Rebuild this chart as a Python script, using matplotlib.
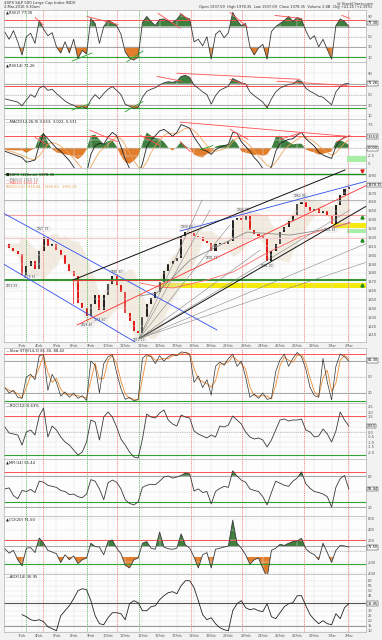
import numpy as np
import pandas as pd
import matplotlib
matplotlib.use("Agg")
import matplotlib.pyplot as plt
from matplotlib.transforms import blended_transform_factory

# ---- data (4 bars per trading day, day 0 = 3Feb) ----
DAY_LABELS = ["3Feb", "4Feb", "5Feb", "8Feb", "9Feb", "10Feb", "11Feb", "12Feb", "16Feb", "17Feb",
              "18Feb", "19Feb", "22Feb", "23Feb", "24Feb", "25Feb", "26Feb", "29Feb", "1Mar", "2Mar"]
GREEN_DAYS = [0.23, 3.78, 6.80]
RED_DAYS = [1.22, 5.52, 9.83, 12.79, 16.40, 18.95]

CLOSE = [1912, 1908, 1905, 1901, 1878, 1888, 1893, 1884, 1905, 1920, 1910, 1913, 1906, 1900, 1890,
         1882, 1876, 1846, 1840, 1831, 1845, 1855, 1838, 1855, 1868, 1877, 1866, 1858, 1835, 1826,
         1815, 1812, 1830, 1845, 1852, 1858, 1870, 1882, 1890, 1893, 1897, 1922, 1926, 1925, 1922,
         1920, 1916, 1914, 1905, 1912, 1914, 1912, 1916, 1940, 1942, 1940, 1944, 1928, 1924, 1922,
         1918, 1893, 1905, 1913, 1926, 1932, 1938, 1944, 1958, 1960, 1954, 1950, 1952, 1948, 1950,
         1944, 1935, 1956, 1968, 1975, 1977]

RSI2 = [59, 45, 62, 40, 14, 50, 57, 37, 82, 65, 52, 58, 30, 18, 40, 18, 45, 7, 23, 16, 86, 76, 37, 70,
        82, 78, 72, 55, 20, 8, 4, 10, 78, 90, 80, 72, 84, 85, 80, 78, 84, 95, 88, 85, 40, 45, 32, 50,
        6, 55, 62, 48, 58, 98, 82, 72, 76, 30, 14, 28, 35, 6, 60, 70, 76, 82, 90, 80, 88, 84, 62, 45,
        52, 30, 45, 25, 6, 72, 85, 80, 70]

RSI14 = [42, 40, 38, 36, 29, 40, 50, 45, 62, 66, 58, 60, 52, 45, 38, 33, 30, 25, 27, 24, 40, 50, 42,
         52, 60, 65, 58, 50, 32, 28, 24, 26, 45, 56, 60, 63, 68, 72, 74, 73, 75, 84, 86, 82, 68, 62,
         55, 50, 32, 48, 58, 62, 66, 80, 76, 72, 70, 55, 48, 42, 36, 25, 42, 55, 62, 66, 69, 70, 76,
         75, 62, 56, 52, 47, 45, 38, 31, 55, 65, 70, 71]

MACD = [-1.0, -1.5, -2.0, -2.5, -3.0, -4.5, -4.2, -3.8, 1.0, 4.5, 3.0, 1.5, 0.0, -1.0, -2.5, -4.0,
        -6.0, -8.5, -9.0, -8.0, -2.0, 0.8, 1.5, 1.3, 3.5, 5.0, 4.0, 0.5, -3.5, -6.5, -8.0, -8.5,
        -5.0, 0.5, 2.5, 4.0, 5.5, 6.0, 5.0, 3.8, 5.0, 7.5, 7.0, 6.3, 3.5, 1.5, -0.5, -1.0, -2.0,
        -0.5, 0.2, 0.8, 1.2, 5.0, 4.8, 2.0, 0.5, -1.0, -3.0, -4.5, -6.5, -7.5, -6.0, -1.0, 1.5,
        2.2, 2.8, 3.0, 4.2, 5.0, 3.0, 1.8, 0.6, -1.3, -2.2, -2.8, -3.3, 0.5, 2.5, 3.5, 3.7]
SIGNAL = [-0.5, -0.9, -1.3, -1.8, -2.3, -3.0, -3.5, -3.7, -2.5, -0.5, 1.2, 1.8, 1.4, 0.6, -0.5,
          -1.8, -3.3, -5.0, -6.5, -7.5, -6.0, -3.5, -1.2, 0.0, 1.2, 2.5, 3.5, 3.0, 1.0, -1.5, -4.0,
          -6.0, -6.5, -4.5, -1.5, 0.8, 2.5, 4.0, 4.8, 4.6, 4.6, 5.5, 6.3, 6.5, 5.6, 4.2, 2.5, 0.8,
          -0.5, -1.0, -0.7, -0.2, 0.3, 2.0, 3.3, 3.0, 2.0, 0.8, -0.8, -2.5, -4.0, -5.5, -6.0, -4.5,
          -2.5, -0.5, 0.8, 1.8, 2.8, 3.6, 3.4, 2.8, 2.0, 0.8, -0.4, -1.4, -2.2, -1.5, 0.0, 1.6, 2.6]

STOCH_K = [30, 20, 25, 12, 10, 50, 55, 45, 90, 92, 25, 55, 40, 14, 22, 12, 20, 10, 15, 6, 80, 72, 20,
           75, 88, 92, 58, 28, 8, 12, 5, 8, 85, 92, 88, 75, 90, 80, 88, 92, 90, 97, 96, 92, 40, 52,
           30, 45, 16, 70, 78, 72, 85, 93, 70, 80, 50, 12, 18, 10, 20, 8, 10, 60, 82, 93, 70, 85, 96,
           88, 65, 30, 15, 12, 85, 40, 7, 70, 93, 88, 80]

ROC = [0.5, -0.1, -0.2, -0.3, -1.3, 0.0, 0.2, -0.3, 1.6, 2.4, -0.5, 0.6, 0.2, -0.5, -1.0, -1.3, -1.8,
       -2.3, -2.0, -1.0, 1.2, 1.0, -0.8, 1.5, 2.0, 1.5, 0.5, -0.7, -1.3, -2.0, -2.5, -2.6, -0.7, 1.8,
       1.5, 1.4, 1.9, 2.2, 1.2, 0.8, 0.6, 1.7, 1.5, 1.4, 0.1, -0.2, -0.4, -0.6, -0.3, -0.5, 0.6, 0.5,
       0.7, 1.6, 1.2, 0.8, 0.0, -0.5, -0.7, -0.6, -0.8, -1.5, -0.8, 0.2, 1.2, 1.3, 1.1, 1.2, 1.2, 1.3,
       0.2, 0.0, -0.5, -0.4, 0.3, -0.2, -1.0, 0.1, 2.0, 1.2, 0.6]

MFI = [55, 57, 42, 36, 52, 50, 54, 48, 70, 68, 62, 60, 58, 52, 50, 44, 45, 40, 38, 45, 73, 70, 55, 34,
       67, 72, 68, 55, 34, 27, 24, 30, 58, 62, 64, 63, 70, 78, 80, 76, 78, 81, 86, 84, 51, 55, 48, 50,
       26, 50, 56, 60, 58, 90, 80, 72, 68, 55, 52, 50, 40, 24, 48, 70, 66, 62, 60, 70, 76, 88, 65, 56,
       50, 48, 45, 40, 20, 58, 75, 81, 55]

CCI = [50, -30, 20, -150, -260, 60, 70, -20, 245, 150, 20, -10, -40, -200, -60, -150, -80, -220, -150,
       -120, 150, 90, 80, -60, 180, 210, 60, -40, -250, -300, -150, -120, 150, 180, 60, 40, 355, 80, 50,
       40, 60, 320, 120, 60, -100, -300, -60, -20, -300, 40, 60, 80, 100, 570, 150, 60, -60, -230, -150,
       -120, -300, -480, 20, 60, 130, 110, 150, 180, 190, 240, 50, -20, -60, -150, 150, -20, -200, 20,
       110, 100, 80]

ADX = [np.nan, np.nan, np.nan, np.nan, 26, 24, 21, 20, 21, 19, 14, 12, 10, 25, 30, 35, 42, 50, 52, 51,
       40, 25, 17, 16, 23, 28, 28, 27, 21, 37, 40, 38, 30, 30, 34, 35, 41, 45, 48, 49, 47, 55, 60, 60,
       53, 40, 26, 21, 23, 17, 13, 11, 10, 30, 37, 40, 33, 31, 32, 30, 29, 37, 24, 22, 28, 34, 37, 38,
       45, 45, 35, 26, 21, 17, 20, 17, 16, 27, 22, 33, 37]

# moving averages on the price panel (day, price)
MA_RED = [(6.86, 1868.6), (8.02, 1864.1), (8.78, 1863.0), (10.76, 1872.0), (12.27, 1881.0),
          (14.24, 1902.4), (16.16, 1920.5), (18.08, 1931.8), (19.07, 1936.2)]
MA_GREY = [(6.86, 1854.0), (7.85, 1857.4), (9.77, 1894.4), (11.51, 1911.3), (13.08, 1926.0),
           (15.58, 1922.6), (18.08, 1930.4), (19.07, 1937.2)]

# hand drawn trend lines (x0, y0, x1, y1) in data units
RSI2_RED = [(0.76, 88, 1.22, 74), (3.78, 90, 5.58, 74), (7.91, 96, 9.19, 67), (9.19, 96, 9.77, 82),
            (12.09, 98, 13.14, 68), (14.71, 92, 16.28, 86), (18.6, 92, 19.07, 86)]
RSI2_GREEN = [(2.91, 2, 4.07, 18), (5.99, -2, 7.03, 22)]
RSI14_RED = [(9.01, 90, 16.16, 78.6), (7.85, 84, 9.3, 75), (12.09, 78.6, 13.14, 67), (14.83, 75, 18.9, 67)]
RSI14_GREEN = [(2.91, 21, 3.95, 33), (5.99, 18, 7.03, 37)]
MACD_RED = [(9.19, 8.3, 18.95, 3.75), (0.76, 3.4, 1.45, 1.1), (3.95, 5.7, 5.52, 2.1), (6.86, 4.1, 8.02, 0.8),
            (9.19, 2.1, 9.77, -1.1), (12.09, 6.0, 13.14, 2.8), (15.0, 2.8, 16.28, 5.0), (18.31, 2.1, 19.07, 4.1)]
MACD_GREEN = [(10.35, -0.5, 11.1, 0.8), (3.08, -10.3, 3.78, -7.0), (6.28, -8.6, 6.86, -7.0)]

BLUE_LINES = [(-1.1, 1947.5, 11.34, 1815.6), (-1.28, 1892.3, 7.15, 1795.4), (9.19, 1927.2, 20.93, 1988.0)]
BLACK_LINES = [(2.97, 1872.0, 18.78, 1996.0), (6.86, 1806.6, 20.93, 1965.5)]
RED_TREND = [(3.2, 1821.3, 20.93, 1987.0), (2.97, 1872.0, 8.02, 1872.0), (2.97, 1872.0, 2.97, 1846.1)]
FAN_ENDS = [(10.47, 1962.2), (10.93, 1950.9), (12.09, 1934.0), (13.84, 1905.8), (20.93, 1898.0),
            (20.93, 1920.5), (19.07, 1951.0)]
FAN_START = (6.80, 1806.0)

PRICE_NOTES = [(-0.58, 1865.2, "1872.65"), (0.47, 1875.4, "1878.93"), (1.22, 1929.5, "1927.35"),
               (3.78, 1821.3, "1828.46"), (4.53, 1826.9, "1834.60"), (5.52, 1881.0, "1881.60"),
               (6.80, 1804.4, "1810.10"), (9.59, 1931.7, "1930.68"), (11.05, 1896.8, "1891.71"),
               (12.85, 1950.9, "1946.70"), (14.24, 1887.8, "1891.00"), (16.16, 1966.7, "1962.96"),
               (17.91, 1928.4, "1931.81")]

# ---- layout (pixels of the 382x640 picture) ----
FW, FH = 382, 640
X0, X1 = 4, 366
XMIN, XMAX = -1.05, 20.0
x = -1 + 0.25 * np.arange(len(CLOSE))

fig = plt.figure(figsize=(FW / 100, FH / 100), dpi=100, facecolor="#f2f2f2")

GREEN = "#33a333"
RED = "#ff5050"
FILL_G = "#3f7f3f"
FILL_O = "#e27d2c"
LINE = "#3a3a3a"


def panel(top, bottom, ylim, yticks, fmt="{:g}"):
    ax = fig.add_axes([X0 / FW, 1 - bottom / FH, (X1 - X0) / FW, (bottom - top) / FH])
    ax.set_facecolor("#fdfdfd")
    ax.set_xlim(XMIN, XMAX)
    ax.set_ylim(*ylim)
    ax.set_xticks(range(len(DAY_LABELS)))
    ax.set_xticklabels([])
    ax.set_yticks(yticks)
    ax.set_yticklabels([fmt.format(t) for t in yticks])
    ax.yaxis.tick_right()
    ax.tick_params(length=0, labelsize=2.6, pad=1.5, colors="#555")
    ax.grid(True, color="#e3e3e3", lw=0.35)
    for s in ax.spines.values():
        s.set_color("#b0b0b0")
        s.set_linewidth(0.5)
    for d in GREEN_DAYS:
        ax.axvline(d, color="#3aa63a", lw=0.5, ls=(0, (1.5, 1.2)))
    for d in RED_DAYS:
        ax.axvline(d, color="#f06060", lw=0.5, ls=(0, (1.5, 1.2)))
    ax.px_per_unit = (bottom - top) / (ylim[1] - ylim[0])
    return ax


def levels(ax, vals, color, ls="-", lw=0.6):
    for v in vals:
        ax.axhline(v, color=color, ls=ls, lw=lw)


def segs(ax, lines, color, lw=0.6):
    for x0, y0, x1, y1 in lines:
        ax.plot([x0, x1], [y0, y1], color=color, lw=lw)


def legend(ax, text, color="#222"):
    ax.text(0.006, 0.975, text, transform=ax.transAxes, fontsize=2.7, va="top", ha="left", color=color)


def valbox(ax, v, text):
    # the boxed last value covers the tick labels next to it
    tol = 5.0 / ax.px_per_unit
    for t, lab in zip(ax.get_yticks(), ax.get_yticklabels()):
        if abs(t - v) < tol:
            lab.set_visible(False)
    tr = blended_transform_factory(ax.transAxes, ax.transData)
    ax.text(1.005, v, text, transform=tr, fontsize=2.5, va="center", ha="left", clip_on=False,
            bbox=dict(boxstyle="square,pad=0.12", fc="white", ec="#333", lw=0.35))


def osc(ax, vals, hi, lo, color=LINE):
    v = np.array(vals, float)
    ax.fill_between(x, v, hi, where=v > hi, interpolate=True, color=FILL_G, lw=0)
    ax.fill_between(x, v, lo, where=v < lo, interpolate=True, color=FILL_O, lw=0)
    ax.plot(x, v, color=color, lw=0.6)


# header
fig.text(0.01, 1 - 3 / FH, "$SPX S&P 500 Large Cap Index INDX", fontsize=2.8, va="center", color="#333")
fig.text(0.01, 1 - 7 / FH, "2-Mar-2016 9:30am", fontsize=2.6, va="center", color="#333")
fig.text(0.975, 1 - 3 / FH, "@ StockCharts.com", fontsize=2.6, va="center", ha="right", color="#333")
fig.text(0.975, 1 - 7 / FH, "Open 1937.09  High 1978.35  Low 1937.09  Close 1978.35  Volume 2.8B  Chg +41.25 (+2.39%)",
         fontsize=2.6, va="center", ha="right", color="#333")

# RSI(2)
ax1 = panel(9.5, 62, (0.2, 103.7), [10, 30, 50, 70, 90])
levels(ax1, [83], RED, lw=0.7)
levels(ax1, [70, 30], "#999")
levels(ax1, [50], "#999", ls=(0, (2, 2)), lw=0.4)
levels(ax1, [10], GREEN, lw=0.8)
osc(ax1, RSI2, 70, 30)
segs(ax1, RSI2_RED, RED)
segs(ax1, RSI2_GREEN, GREEN)
legend(ax1, "\u25b2RSI(2) 77.30")
valbox(ax1, 77, "77.30")

# RSI(14)
ax2 = panel(62, 119, (4.3, 111), [10, 30, 50, 70, 90])
levels(ax2, [66], RED, lw=0.7)
levels(ax2, [70, 31], "#999")
levels(ax2, [50], "#999", ls=(0, (2, 2)), lw=0.4)
levels(ax2, [25], GREEN, lw=0.8)
osc(ax2, RSI14, 70, 31)
segs(ax2, RSI14_RED, RED)
segs(ax2, RSI14_GREEN, GREEN)
legend(ax2, "\u25b2RSI(14) 71.26")
valbox(ax2, 71, "71.26")

# MACD
ax3 = panel(119, 168, (-6.35, 9.3), [-5, -2.5, 0, 2.5, 5, 7.5])
macd = np.array(MACD)
sig = np.array(SIGNAL)
hist = macd - sig
ax3.fill_between(x, hist, 0, where=hist > 0, interpolate=True, color=FILL_G, lw=0)
ax3.fill_between(x, hist, 0, where=hist < 0, interpolate=True, color=FILL_O, lw=0)
levels(ax3, [3.75], RED, lw=0.7)
levels(ax3, [0], "#999", ls=(0, (2, 2)), lw=0.4)
ax3.plot(x, sig, color="#f0a050", lw=0.55)
ax3.plot(x, macd, color="#222", lw=0.6)
segs(ax3, MACD_RED, RED)
segs(ax3, MACD_GREEN, GREEN)
legend(ax3, "\u2014MACD(12,26,9) 3.553, 3.022, 0.531")
valbox(ax3, 3.7, "3.553")
valbox(ax3, 0, "0.000")

# price
P_LO, P_HI = 1802.1, 1998.2
ax4 = panel(168, 342, (P_LO, P_HI), list(range(1810, 1991, 10)), fmt="{:.0f}")
ax4.set_xticklabels(DAY_LABELS)
ax4.tick_params(axis="x", labelsize=2.5, pad=1.2, colors="#555")
ax4.axhspan(1863.0, 1868.6, xmin=(8.02 - XMIN) / (XMAX - XMIN), color="#f5ea10", lw=0)
ax4.axhspan(1930.6, 1936.2, xmin=(18.08 - XMIN) / (XMAX - XMIN), color="#f5ea10", lw=0)
ax4.axhspan(1925.0, 1929.5, xmin=(18.9 - XMIN) / (XMAX - XMIN), color="#a6eea6", lw=0)
levels(ax4, [1991.5], "#1c8c1c", lw=1.0)
levels(ax4, [1872.0], "#1c8c1c", lw=1.3)
levels(ax4, [1945.3], "#f4a0a0", lw=0.8)
levels(ax4, [1919.3], "#f8c8c8", lw=0.8)
levels(ax4, [1962.2], "#aaa", lw=0.6)

close = pd.Series(CLOSE, dtype=float)
mid = close.rolling(6, min_periods=1).mean()
sd = close.rolling(6, min_periods=2).std().fillna(0)
ax4.fill_between(x, mid - 1.5 * sd, mid + 1.5 * sd, color="#e6d9bd", alpha=0.45, lw=0)
ax4.plot(*zip(*MA_GREY), color="#8a8a8a", lw=0.6)
ax4.plot(*zip(*MA_RED), color="#ff6a6a", lw=0.6)

opens = close.shift(1).fillna(close.iloc[0])
up = close >= opens
ax4.bar(x, close - opens, bottom=opens, width=0.12, color=np.where(up, "#222", "#e21b1b"), lw=0)

for d, p, t in PRICE_NOTES:
    ax4.text(d, p, t, fontsize=2.2, ha="center", va="center", color="#333",
             bbox=dict(boxstyle="square,pad=0.1", fc="white", ec="#bbb", lw=0.25))
ax4.plot([19.77] * 3, [1943, 1917, 1866.4], ls="none", marker="^", ms=2.2, color="#1c8c1c")
ax4.plot([19.77], [1995], ls="none", marker="v", ms=2.2, color="#e21b1b")
legend(ax4, "\u25a0$SPX (120min) 1978.35")
ax4.text(0.006, 0.945, "\u2014MA(50) 1915.73", transform=ax4.transAxes, fontsize=2.5, va="top", color="#777")
ax4.text(0.006, 0.925, "\u2014MA(20) 1932.21", transform=ax4.transAxes, fontsize=2.5, va="top", color="#ff4040")
ax4.text(0.006, 0.905, "BB(20,2.0) 1978.44 - 1926.03 - 1951.25", transform=ax4.transAxes, fontsize=2.5,
         va="top", color="#e0a050")
valbox(ax4, 1979, "1978.35")

# overlay for drawn price lines, reaching up into the MACD panel
ov = fig.add_axes([X0 / FW, 1 - 342 / FH, (X1 - X0) / FW, (342 - 120) / FH])
ov.set_xlim(XMIN, XMAX)
ov.set_ylim(P_LO, 1872 + 160 * 1.127)
ov.axis("off")
segs(ov, BLUE_LINES, "#2f4ff0", lw=0.6)
segs(ov, BLACK_LINES, "#111", lw=0.7)
segs(ov, RED_TREND, "#ff3030", lw=0.6)
for ex, ey in FAN_ENDS:
    ov.plot([FAN_START[0], ex], [FAN_START[1], ey], color="#777", lw=0.35)
ov.fill_between([18.9, 20.0], 2005, 2011.8, color="#a6eea6", lw=0)

# Slow stochastic
ax5 = panel(348, 403, (1.2, 104.4), [20, 50, 80])
levels(ax5, [93], RED, lw=0.7)
levels(ax5, [80, 20], "#999")
levels(ax5, [50], "#999", ls=(0, (2, 2)), lw=0.4)
levels(ax5, [5], GREEN, lw=0.8)
stk = pd.Series(STOCH_K, dtype=float)
ax5.plot(x, stk.rolling(2, min_periods=1).mean(), color="#f08a30", lw=0.6)
ax5.plot(x, stk, color="#333", lw=0.5)
legend(ax5, "\u2014Slow STO(14,3) 81.30, 88.42")
valbox(ax5, 81, "81.30")

# ROC
ax6 = panel(403, 459, (-2.7, 2.9), [-2, -1.5, -1, -0.5, 0, 0.5, 1, 1.5, 2, 2.5], fmt="{:.1f}")
levels(ax6, [1.6], RED, lw=0.7)
levels(ax6, [0], "#999", ls=(0, (2, 2)), lw=0.4)
levels(ax6, [-2.3], GREEN, lw=0.8)
ax6.plot(x, ROC, color=LINE, lw=0.6)
legend(ax6, "\u2014ROC(12) 0.63%")
valbox(ax6, 0.6, "0.63")

# MFI
ax7 = panel(459, 516, (2.6, 112.9), [20, 50, 80])
levels(ax7, [88], RED, lw=0.7)
levels(ax7, [80, 20], "#999")
levels(ax7, [30], GREEN, lw=0.8)
osc(ax7, MFI, 80, 22)
legend(ax7, "\u25b2MFI(14) 55.44")
valbox(ax7, 55, "55.44")

# CCI
ax8 = panel(516, 574, (-410, 646), [-400, -200, 0, 200, 400, 600])
levels(ax8, [210], RED, lw=0.7)
levels(ax8, [100], "#999")
levels(ax8, [0], "#999", ls=(0, (2, 2)), lw=0.4)
levels(ax8, [-230], GREEN, lw=0.8)
osc(ax8, CCI, 100, -100)
legend(ax8, "\u25b2CCI(20) 71.50")
valbox(ax8, 80, "71.50")

# ADX
ax9 = panel(574, 632, (8.7, 66.7), list(range(10, 61, 5)))
levels(ax9, [37.7], "#555", lw=0.8)
levels(ax9, [14.7], "#999", lw=0.8)
ax9.plot(x, ADX, color="#222", lw=0.6)
ax9.set_xticklabels(DAY_LABELS)
ax9.tick_params(axis="x", labelsize=2.5, pad=1.2, colors="#555")
legend(ax9, "\u2014ADX(14) 36.95")
valbox(ax9, 37, "36.95")

fig.savefig("out.png", dpi=100, facecolor=fig.get_facecolor())
